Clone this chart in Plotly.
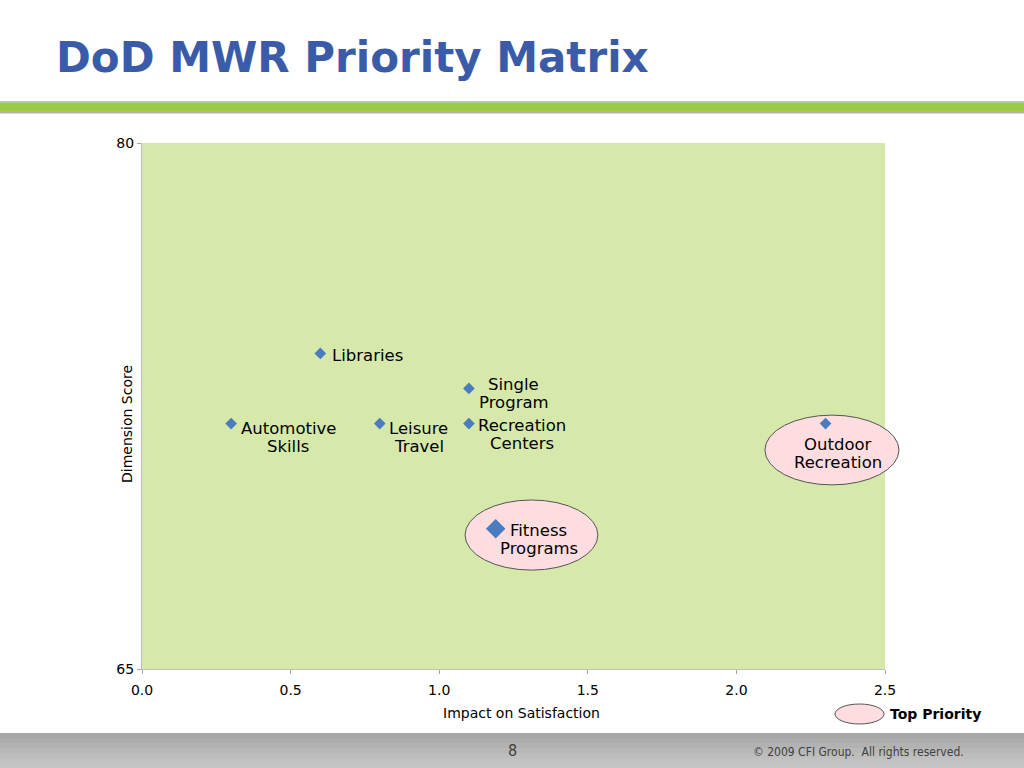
import plotly.graph_objects as go

# ---------------- data ----------------
categories = ["Libraries", "Automotive Skills", "Leisure Travel", "Single Program",
              "Recreation Centers", "Outdoor Recreation", "Fitness Programs"]
impact = [0.6, 0.3, 0.8, 1.1, 1.1, 2.3, 1.19]
score = [74, 72, 72, 73, 72, 72, 69]
label_lines = [["Libraries"], ["Automotive", "Skills"], ["Leisure", "Travel"],
               ["Single", "Program"], ["Recreation", "Centers"],
               ["Outdoor", "Recreation"], ["Fitness", "Programs"]]
top_priority = ["Outdoor Recreation", "Fitness Programs"]
x_ticks = [0.0, 0.5, 1.0, 1.5, 2.0, 2.5]
y_ticks = [65, 80]
x_range = [0, 2.5]
y_range = [65, 80]
# highlight ellipses in data units: (x0, x1, y0, y1)
ellipse_bounds = {"Outdoor Recreation": (2.096, 2.547, 70.25, 72.24),
                  "Fitness Programs": (1.087, 1.534, 67.82, 69.82)}

# ---------------- styles ----------------
W, H = 1024, 768
L, R, T, B = 142, 885, 143, 669
FONT = "DejaVu Sans"
marker_size = {"Fitness Programs": 15}
# label offsets in pixels: (xshift, yshift of block middle, xanchor)
label_off = {
    "Libraries": (10, -2, "left"),
    "Automotive Skills": (57, -14, "center"),
    "Leisure Travel": (39, -14, "center"),
    "Single Program": (45, -5, "center"),
    "Recreation Centers": (53, -11, "center"),
    "Outdoor Recreation": (12, -30, "center"),
    "Fitness Programs": (43, -11, "center"),
}


def px_x(px):
    return (px - L) / (R - L)


def px_y(py):
    return (B - py) / (B - T)


def dx(v):
    return (v - x_range[0]) / (x_range[1] - x_range[0])


def dy(v):
    return (v - y_range[0]) / (y_range[1] - y_range[0])


fig = go.Figure()
fig.add_trace(go.Scatter(
    x=impact, y=score, mode="markers",
    marker=dict(symbol="diamond", color="#4a7cc0", opacity=1,
                size=[marker_size.get(c, 9) for c in categories],
                line=dict(width=0)),
    hovertext=categories, showlegend=False, cliponaxis=False))

shapes = []
# header bars
shapes.append(dict(type="rect", xref="paper", yref="paper", x0=px_x(0), x1=px_x(W),
                   y0=px_y(111), y1=px_y(101), fillcolor="#9ccb45", line=dict(width=0), layer="below"))
shapes.append(dict(type="rect", xref="paper", yref="paper", x0=px_x(0), x1=px_x(W),
                   y0=px_y(103), y1=px_y(101), fillcolor="#b4d672", line=dict(width=0), layer="below"))
shapes.append(dict(type="rect", xref="paper", yref="paper", x0=px_x(0), x1=px_x(W),
                   y0=px_y(113.5), y1=px_y(111), fillcolor="#b2b2b2", line=dict(width=0), layer="below"))
# footer band (stepped gradient)
foot_cols = ["#a6a6a6", "#acacac", "#b2b2b2", "#b8b8b8", "#bdbdbd", "#c1c1c1", "#c4c4c4"]
step = (H - 733) / len(foot_cols)
for i, c in enumerate(foot_cols):
    shapes.append(dict(type="rect", xref="paper", yref="paper", x0=px_x(0), x1=px_x(W),
                       y0=px_y(733 + (i + 1) * step + 0.5), y1=px_y(733 + i * step),
                       fillcolor=c, line=dict(width=0), layer="below"))
# plot area background
shapes.append(dict(type="rect", xref="paper", yref="paper", x0=0, x1=1, y0=0, y1=1,
                   fillcolor="#d6e9aa", line=dict(width=0), layer="below"))
# top priority ellipses
for name in top_priority:
    x0, x1, y0, y1 = ellipse_bounds[name]
    shapes.append(dict(type="circle", xref="paper", yref="paper",
                       x0=dx(x0), x1=dx(x1), y0=dy(y0), y1=dy(y1),
                       fillcolor="#fddde0", line=dict(color="#555555", width=1), layer="below"))
# legend ellipse
shapes.append(dict(type="circle", xref="paper", yref="paper",
                   x0=px_x(835), x1=px_x(884), y0=px_y(724), y1=px_y(704),
                   fillcolor="#fddde0", line=dict(color="#555555", width=1), layer="below"))

ann = []
for c, xv, yv, lines in zip(categories, impact, score, label_lines):
    xs, ys, xa = label_off[c]
    n = len(lines)
    for j, line in enumerate(lines):
        off = (j - (n - 1) / 2) * 18
        ann.append(dict(x=xv, y=yv, xref="x", yref="y", text=line, showarrow=False,
                        xanchor=xa, yanchor="middle", xshift=xs, yshift=ys - off,
                        font=dict(family=FONT, size=16.5, color="#000000")))

# title
ann.append(dict(x=px_x(54), y=px_y(57), xref="paper", yref="paper", text="<b>DoD MWR Priority Matrix</b>",
                showarrow=False, xanchor="left", yanchor="middle",
                font=dict(family=FONT, size=42, color="#3a5ca8")))
# axis titles
ann.append(dict(x=px_x(521), y=px_y(713), xref="paper", yref="paper", text="Impact on Satisfaction",
                showarrow=False, xanchor="center", yanchor="middle",
                font=dict(family=FONT, size=14, color="#000000")))
ann.append(dict(x=px_x(127), y=px_y(424), xref="paper", yref="paper", text="Dimension Score",
                showarrow=False, xanchor="center", yanchor="middle", textangle=-90,
                font=dict(family=FONT, size=14, color="#000000")))
# legend text
ann.append(dict(x=px_x(888), y=px_y(714), xref="paper", yref="paper", text="<b>Top Priority</b>",
                showarrow=False, xanchor="left", yanchor="middle",
                font=dict(family=FONT, size=14, color="#000000")))
# footer
ann.append(dict(x=px_x(512), y=px_y(750), xref="paper", yref="paper", text="8",
                showarrow=False, xanchor="center", yanchor="middle",
                font=dict(family="DejaVu Sans Condensed, DejaVu Sans", size=16, color="#404040")))
ann.append(dict(x=px_x(966), y=px_y(752), xref="paper", yref="paper",
                text="© 2009 CFI Group.  All rights reserved.",
                showarrow=False, xanchor="right", yanchor="middle",
                font=dict(family="DejaVu Sans Condensed, DejaVu Sans", size=12, color="#404040")))

fig.update_layout(
    width=W, height=H, autosize=False,
    margin=dict(l=L, r=W - R, t=T, b=H - B, pad=0),
    paper_bgcolor="#ffffff", plot_bgcolor="rgba(0,0,0,0)",
    shapes=shapes, annotations=ann, showlegend=False,
    xaxis=dict(range=x_range, tickvals=x_ticks, tickformat=".1f", ticks="outside", ticklen=4,
               ticklabelstandoff=4,
               tickcolor="#a6a6a6", showline=True, linecolor="#bfbfbf", linewidth=1,
               showgrid=False, zeroline=False, fixedrange=True,
               tickfont=dict(family=FONT, size=14, color="#000000")),
    yaxis=dict(range=y_range, tickvals=y_ticks, ticks="outside", ticklen=4,
               tickcolor="#a6a6a6", showline=True, linecolor="#bfbfbf", linewidth=1,
               showgrid=False, zeroline=False, fixedrange=True,
               tickfont=dict(family=FONT, size=14, color="#000000")),
)

fig.write_html("out.html", config={"displayModeBar": False},
               post_script="document.body.style.margin='0';document.body.style.overflow='hidden';")
